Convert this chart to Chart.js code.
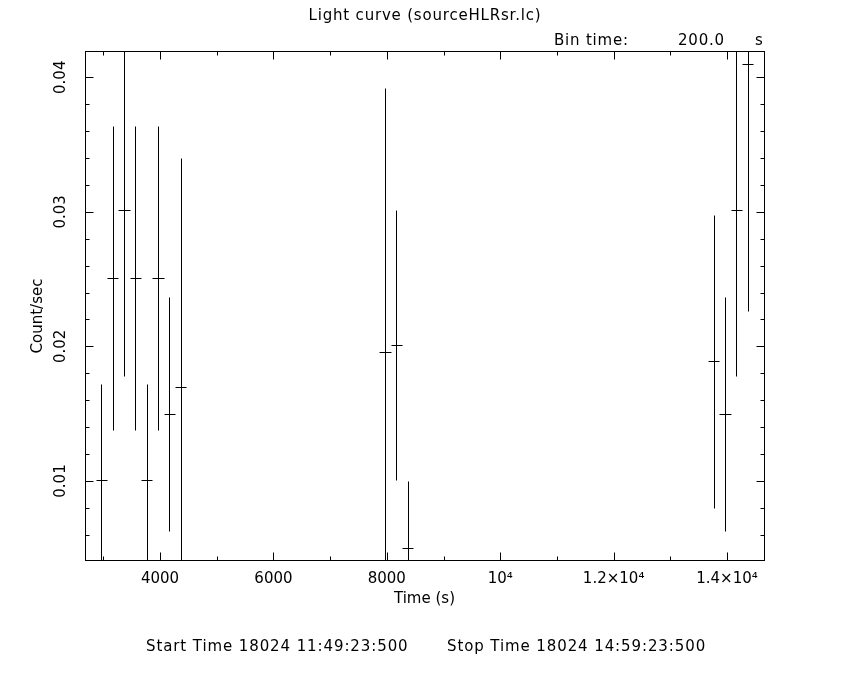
<!DOCTYPE html>
<html><head><meta charset="utf-8">
<script src="https://cdn.jsdelivr.net/npm/chart.js@4/dist/chart.umd.min.js"></script>
<style>html,body{margin:0;padding:0;background:#fff;}#wrap{width:850px;height:680px;}</style>
</head><body><div id="wrap"><canvas id="c" width="850" height="680"></canvas></div>
<script>
// ---- data ----
const times = [2965, 3165, 3365, 3565, 3765, 3965, 4165, 4365, 7965, 8165, 8365, 13765, 13965, 14165, 14365];
const rates = [0.0101, 0.0251, 0.0301, 0.0251, 0.0101, 0.0251, 0.0150, 0.0170, 0.0196, 0.0201, 0.0050, 0.0189, 0.0150, 0.0301, 0.0410];
const rateErrors = [0.0071, 0.0113, 0.0123, 0.0113, 0.0071, 0.0113, 0.0087, 0.0170, 0.0196, 0.0100, 0.0050, 0.0109, 0.0087, 0.0123, 0.0184];
const binHalfWidth = 100;
const xTickValues = [4000, 6000, 8000, 10000, 12000, 14000];
const xTickLabels = ['4000', '6000', '8000', '10\u2074', '1.2\u00d710\u2074', '1.4\u00d710\u2074'];
const xMinorTicks = [3000, 5000, 7000, 9000, 11000, 13000];
const yTickValues = [0.01, 0.02, 0.03, 0.04];
const yTickLabels = ['0.01', '0.02', '0.03', '0.04'];
const yMinorTicks = [0.006, 0.008, 0.012, 0.014, 0.016, 0.018, 0.022, 0.024, 0.026, 0.028, 0.032, 0.034, 0.036, 0.038];
const titleText = 'Light curve (sourceHLRsr.lc)';
const binText = ['Bin time:', '200.0', 's'];
const startText = 'Start Time 18024 11:49:23:500';
const stopText = 'Stop Time 18024 14:59:23:500';
const yAxisTitle = 'Count/sec';
const xAxisTitle = 'Time (s)';

const FONT = '"DejaVu Sans", sans-serif';

const verticalBars = [];
const horizontalBars = [];
times.forEach((t, i) => {
  verticalBars.push({x: t, y: rates[i] - rateErrors[i]}, {x: t, y: rates[i] + rateErrors[i]}, {x: t, y: null});
  horizontalBars.push({x: t - binHalfWidth, y: rates[i]}, {x: t + binHalfWidth, y: rates[i]}, {x: t, y: null});
});

const framePlugin = {
  id: 'frame',
  beforeDraw(chart) {
    const ctx = chart.ctx;
    ctx.save(); ctx.fillStyle = '#fff'; ctx.fillRect(0, 0, chart.width, chart.height); ctx.restore();
  },
  beforeDatasetsDraw(chart) {
    // snap the scale-computed pixel positions so 1px lines are crisp
    chart.data.datasets.forEach((ds, i) => {
      chart.getDatasetMeta(i).data.forEach(pt => {
        if (isFinite(pt.x)) pt.x = Math.round(pt.x) + 0.5;
        if (isFinite(pt.y)) pt.y = Math.round(pt.y) + 0.5;
      });
    });
  },
  afterDraw(chart) {
    const ctx = chart.ctx;
    const a = chart.chartArea;
    const xs = chart.scales.x, ys = chart.scales.y;
    ctx.save();
    ctx.strokeStyle = '#000';
    ctx.lineWidth = 1;
    const L = a.left + 0.5, R = a.right + 0.5, T = a.top + 0.5, B = a.bottom + 0.5;
    ctx.strokeRect(L, T, R - L, B - T);
    ctx.beginPath();
    const xt = (v, len) => { const p = Math.round(xs.getPixelForValue(v)) + 0.5; ctx.moveTo(p, B); ctx.lineTo(p, B - len); ctx.moveTo(p, T); ctx.lineTo(p, T + len); };
    const yt = (v, len) => { const p = Math.round(ys.getPixelForValue(v)) + 0.5; ctx.moveTo(L, p); ctx.lineTo(L + len, p); ctx.moveTo(R, p); ctx.lineTo(R - len, p); };
    xTickValues.forEach(v => xt(v, 8));
    xMinorTicks.forEach(v => xt(v, 4));
    yTickValues.forEach(v => yt(v, 8));
    yMinorTicks.forEach(v => yt(v, 4));
    ctx.stroke();
    ctx.fillStyle = '#000';
    ctx.font = '15px ' + FONT;
    ctx.textBaseline = 'alphabetic';
    try { ctx.letterSpacing = '0.8px'; } catch (e) {}
    ctx.textAlign = 'center';
    ctx.fillText(titleText, 425, 20);
    ctx.textAlign = 'left';
    ctx.fillText(binText[0], 554, 45);
    ctx.fillText(binText[1], 678, 45);
    ctx.fillText(binText[2], 755, 45);
    try { ctx.letterSpacing = '0px'; } catch (e) {}
    // y axis title
    ctx.save();
    ctx.translate(38, 316);
    ctx.rotate(-Math.PI / 2);
    ctx.textAlign = 'center';
    ctx.textBaseline = 'middle';
    ctx.fillText(yAxisTitle, 0, 0);
    ctx.restore();
    try { ctx.letterSpacing = '0.9px'; } catch (e) {}
    ctx.fillText(startText, 146, 651);
    ctx.fillText(stopText, 447, 651);
    ctx.restore();
  }
};

new Chart(document.getElementById('c'), {
  type: 'scatter',
  data: {
    datasets: [
      {data: verticalBars, showLine: true, spanGaps: false, borderColor: '#000', borderWidth: 1, pointRadius: 0, tension: 0},
      {data: horizontalBars, showLine: true, spanGaps: false, borderColor: '#000', borderWidth: 1, pointRadius: 0, tension: 0}
    ]
  },
  options: {
    responsive: false,
    devicePixelRatio: 1,
    animation: false,
    events: [],
    layout: {padding: {left: 0, right: 86, top: 51, bottom: 60}},
    plugins: {legend: {display: false}, tooltip: {enabled: false}, title: {display: false}},
    scales: {
      x: {
        type: 'linear', min: 2677, max: 14652,
        afterBuildTicks: s => { s.ticks = xTickValues.map(v => ({value: v})); },
        afterFit: s => { s.height = 60; },
        grid: {display: false}, border: {display: false},
        ticks: {autoSkip: false, maxRotation: 0, minRotation: 0, padding: 2, color: '#000',
          font: {family: FONT, size: 15},
          callback: v => xTickLabels[xTickValues.indexOf(v)]},
        title: {display: true, text: xAxisTitle, color: '#000', font: {family: FONT, size: 15}, padding: {top: 0, bottom: 12}}
      },
      y: {
        type: 'linear', min: 0.00413, max: 0.04195,
        afterBuildTicks: s => { s.ticks = yTickValues.map(v => ({value: v})); },
        afterFit: s => { s.width = 85; },
        grid: {display: false}, border: {display: false},
        ticks: {autoSkip: false, minRotation: 90, maxRotation: 90, crossAlign: 'center', padding: -1, color: '#000',
          font: {family: FONT, size: 15},
          callback: v => yTickLabels[yTickValues.indexOf(v)]},
        title: {display: false}
      }
    }
  },
  plugins: [framePlugin]
});
</script>
</body></html>
